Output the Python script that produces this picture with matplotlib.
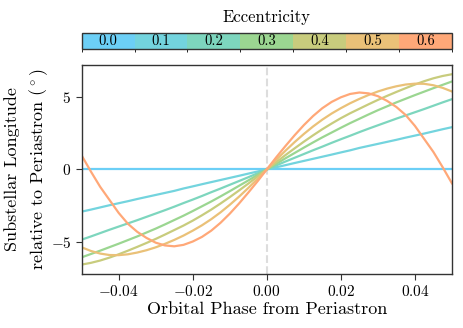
import numpy as np
import matplotlib
matplotlib.use("Agg")
import matplotlib.pyplot as plt
from matplotlib.colors import ListedColormap, BoundaryNorm
from matplotlib.cm import ScalarMappable

plt.rcParams['font.family'] = 'cmr10'
plt.rcParams['mathtext.fontset'] = 'cm'
plt.rcParams['axes.formatter.use_mathtext'] = True

# eccentricities and their colours
ecc = [0.0, 0.1, 0.2, 0.3, 0.4, 0.5, 0.6]
colors = ['#6ccff6', '#73d4de', '#7dd6be', '#9bd691', '#c8cc7d', '#eac178', '#ffa878']

# orbital phase from periastron (after periastron; the curves are mirrored before it)
phase_pos = [0.0, 0.0025, 0.005, 0.0075, 0.01, 0.0125, 0.015, 0.0175, 0.02, 0.0225, 0.025,
             0.0275, 0.03, 0.0325, 0.035, 0.0375, 0.04, 0.0425, 0.045, 0.0475, 0.05]

# substellar longitude relative to periastron (deg)
lon_e00 = [0.0] * 21
lon_e01 = [0, .145, .29, .44, .585, .73, .875, 1.02, 1.17, 1.315, 1.48,
           1.62, 1.76, 1.90, 2.04, 2.19, 2.33, 2.47, 2.62, 2.77, 2.91]
lon_e02 = [0, .27, .54, .80, 1.06, 1.32, 1.57, 1.83, 2.08, 2.32, 2.57,
           2.81, 3.04, 3.27, 3.50, 3.72, 3.94, 4.16, 4.39, 4.62, 4.84]
lon_e03 = [0, .38, .76, 1.13, 1.50, 1.86, 2.21, 2.54, 2.87, 3.19, 3.49,
           3.79, 4.08, 4.35, 4.62, 4.87, 5.12, 5.36, 5.60, 5.83, 6.06]
lon_e04 = [0, .49, .98, 1.45, 1.91, 2.35, 2.77, 3.16, 3.53, 3.87, 4.18,
           4.49, 4.79, 5.07, 5.34, 5.60, 5.85, 6.08, 6.28, 6.44, 6.56]
lon_e05 = [0, .65, 1.28, 1.88, 2.44, 2.96, 3.43, 3.85, 4.22, 4.56, 4.86,
           5.13, 5.37, 5.57, 5.73, 5.85, 5.91, 5.90, 5.80, 5.62, 5.37]
lon_e06 = [0, .82, 1.60, 2.35, 3.05, 3.68, 4.22, 4.65, 4.97, 5.20, 5.30,
           5.24, 5.05, 4.72, 4.30, 3.75, 3.00, 2.10, 1.20, 0.15, -0.96]
curves = [lon_e00, lon_e01, lon_e02, lon_e03, lon_e04, lon_e05, lon_e06]

# full phase range: mirror about periastron
phase = [-p for p in phase_pos[:0:-1]] + phase_pos

fig = plt.figure(figsize=(4.64, 3.28), dpi=100)
ax = fig.add_axes([0.176, 0.165, 0.798, 0.637])

ax.axvline(0, color='#dddddd', ls='--', lw=1.5, zorder=1)
for y, col in zip(curves, colors):
    full = [-v for v in y[:0:-1]] + y
    ax.plot(phase, full, color=col, lw=1.6, zorder=2)

ax.set_xlim(-0.05, 0.05)
ax.set_ylim(-7.2, 7.2)
ax.set_xticks([-0.04, -0.02, 0.0, 0.02, 0.04])
ax.set_yticks([-5, 0, 5])
ax.set_xlabel('Orbital Phase from Periastron', fontsize=13, labelpad=2)
ax.set_ylabel('Substellar Longitude\nrelative to Periastron $(^\\circ)$', fontsize=13,
              labelpad=0.5, linespacing=1.45)
ax.tick_params(labelsize=11, length=4, color='#333333', direction='out')
for s in ax.spines.values():
    s.set_color('#333333')
    s.set_linewidth(1.0)

# discrete colorbar on top
cax = fig.add_axes([0.176, 0.85, 0.798, 0.049])
bounds = np.arange(len(ecc) + 1) - 0.5
cmap = ListedColormap(colors)
norm = BoundaryNorm(bounds, cmap.N)
cb = fig.colorbar(ScalarMappable(norm=norm, cmap=cmap), cax=cax, orientation='horizontal')
cb.set_ticks([])
cb.outline.set_edgecolor('#333333')
cb.outline.set_linewidth(1.0)
for i, e in enumerate(ecc):
    cax.text(i, 0.5, '%.1f' % e, ha='center', va='center', fontsize=10.5,
             transform=cax.get_xaxis_transform())
cax.set_title('Eccentricity', fontsize=12, pad=8)

fig.savefig('out.png', dpi=100)
